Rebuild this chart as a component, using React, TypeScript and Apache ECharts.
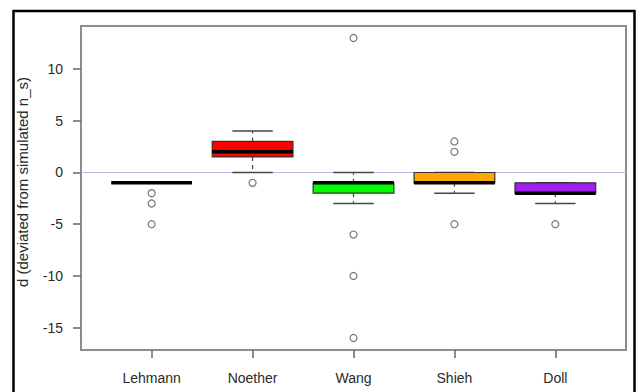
import React, { useEffect, useRef } from "react";
import * as echarts from "echarts";

const categories = ["Lehmann", "Noether", "Wang", "Shieh", "Doll"];
const whiskerLow = [-1, 0, -3, -2, -3];
const q1 = [-1, 1.5, -2, -1, -2];
const median = [-1, 2, -1, -1, -2];
const q3 = [-1, 3, -1, 0, -1];
const whiskerHigh = [-1, 4, 0, 0, -1];
const outliers = [[-2, -3, -5], [-1], [13, -6, -10, -16], [3, 2, -5], [-5]];
const boxColors = ["#4d7cff", "#ff0000", "#00ff00", "#ffa500", "#a020f0"];
const yTicks = [-15, -10, -5, 0, 5, 10];
const yTitle = "d (deviated from simulated n_s)";

const FONT = "'Liberation Sans', Arial, sans-serif";

export default function App() {
  const ref = useRef<HTMLDivElement>(null);
  useEffect(() => {
    if (!ref.current) return;
    const chart = echarts.init(ref.current, null, { renderer: "svg" });
    const boxData = categories.map((_, i) => [
      i + 1,
      whiskerLow[i],
      q1[i],
      median[i],
      q3[i],
      whiskerHigh[i],
      i,
    ]);
    const outlierData: number[][] = [];
    outliers.forEach((arr, i) => arr.forEach((v) => outlierData.push([i + 1, v])));

    const option: any = {
      animation: false,
      backgroundColor: "#ffffff",
      grid: {
        left: 81,
        right: 14,
        top: 26,
        bottom: 42,
        show: true,
        borderColor: "#8c8c8c",
        borderWidth: 2,
        backgroundColor: "transparent",
      },
      xAxis: {
        type: "value",
        min: 0.3,
        max: 5.7,
        axisLine: { show: false, onZero: false },
        splitLine: { show: false },
        axisTick: {
          show: true,
          customValues: [1, 2, 3, 4, 5],
          length: 8,
          lineStyle: { color: "#666", width: 1.5 },
        },
        axisLabel: {
          customValues: [1, 2, 3, 4, 5],
          formatter: (v: number) => categories[Math.round(v) - 1] ?? "",
          margin: 21,
          fontSize: 14,
          color: "#2a2a2a",
          fontFamily: FONT,
        },
      },
      yAxis: {
        type: "value",
        min: -17.16,
        max: 14.16,
        axisLine: { show: false, onZero: false },
        splitLine: { show: false },
        axisTick: {
          show: true,
          customValues: yTicks,
          length: 8,
          lineStyle: { color: "#666", width: 1.5 },
        },
        axisLabel: {
          customValues: yTicks,
          margin: 18,
          fontSize: 14,
          color: "#2a2a2a",
          fontFamily: FONT,
        },
      },
      graphic: [
        {
          type: "rect",
          shape: { x: 13.5, y: 11, width: 621, height: 420 },
          style: { fill: "none", stroke: "#000", lineWidth: 2.5 },
          silent: true,
        },
        {
          type: "text",
          x: 22,
          y: 182,
          rotation: Math.PI / 2,
          style: {
            text: yTitle,
            fontSize: 15,
            fontFamily: FONT,
            fill: "#2a2a2a",
            align: "center",
            verticalAlign: "middle",
          },
          silent: true,
        },
      ],
      series: [
        {
          type: "line",
          data: [],
          z: 1,
          markLine: {
            silent: true,
            z: 1,
            symbol: ["none", "none"],
            label: { show: false },
            lineStyle: { color: "#c3b4f0", width: 1.2, type: "solid" },
            data: [{ yAxis: 0 }],
          },
        },
        {
          type: "custom",
          data: boxData,
          encode: { x: 0, y: [1, 2, 3, 4, 5] },
          renderItem: (params: any, api: any) => {
            const x = api.value(0);
            const idx = api.value(6);
            const unit = api.size([1, 0])[0];
            const boxW = unit * 0.8;
            const capW = boxW / 2;
            const pLo = api.coord([x, api.value(1)]);
            const pQ1 = api.coord([x, api.value(2)]);
            const pMed = api.coord([x, api.value(3)]);
            const pQ3 = api.coord([x, api.value(4)]);
            const pHi = api.coord([x, api.value(5)]);
            const cx = pMed[0];
            const lineCol = "#444";
            return {
              type: "group",
              children: [
                {
                  type: "line",
                  shape: { x1: cx, y1: pQ3[1], x2: cx, y2: pHi[1] },
                  style: { stroke: lineCol, lineWidth: 1.2, lineDash: [4, 4] },
                },
                {
                  type: "line",
                  shape: { x1: cx, y1: pQ1[1], x2: cx, y2: pLo[1] },
                  style: { stroke: lineCol, lineWidth: 1.2, lineDash: [4, 4] },
                },
                {
                  type: "line",
                  shape: { x1: cx - capW / 2, y1: pHi[1], x2: cx + capW / 2, y2: pHi[1] },
                  style: { stroke: lineCol, lineWidth: 1.5 },
                },
                {
                  type: "line",
                  shape: { x1: cx - capW / 2, y1: pLo[1], x2: cx + capW / 2, y2: pLo[1] },
                  style: { stroke: lineCol, lineWidth: 1.5 },
                },
                {
                  type: "rect",
                  shape: {
                    x: cx - boxW / 2,
                    y: pQ3[1],
                    width: boxW,
                    height: pQ1[1] - pQ3[1],
                  },
                  style: { fill: boxColors[idx], stroke: "#333", lineWidth: 1.2 },
                },
                {
                  type: "line",
                  shape: { x1: cx - boxW / 2, y1: pMed[1], x2: cx + boxW / 2, y2: pMed[1] },
                  style: { stroke: "#000", lineWidth: 3.5 },
                },
              ],
            };
          },
          z: 2,
        },
        {
          type: "scatter",
          data: outlierData,
          symbol: "circle",
          symbolSize: 7,
          itemStyle: { color: "#ffffff", borderColor: "#555", borderWidth: 1.2 },
          z: 3,
        },
      ],
    };
    chart.setOption(option);
    return () => chart.dispose();
  }, []);
  return <div ref={ref} style={{ width: 640, height: 392, position: "absolute", left: 0, top: 0 }} />;
}
